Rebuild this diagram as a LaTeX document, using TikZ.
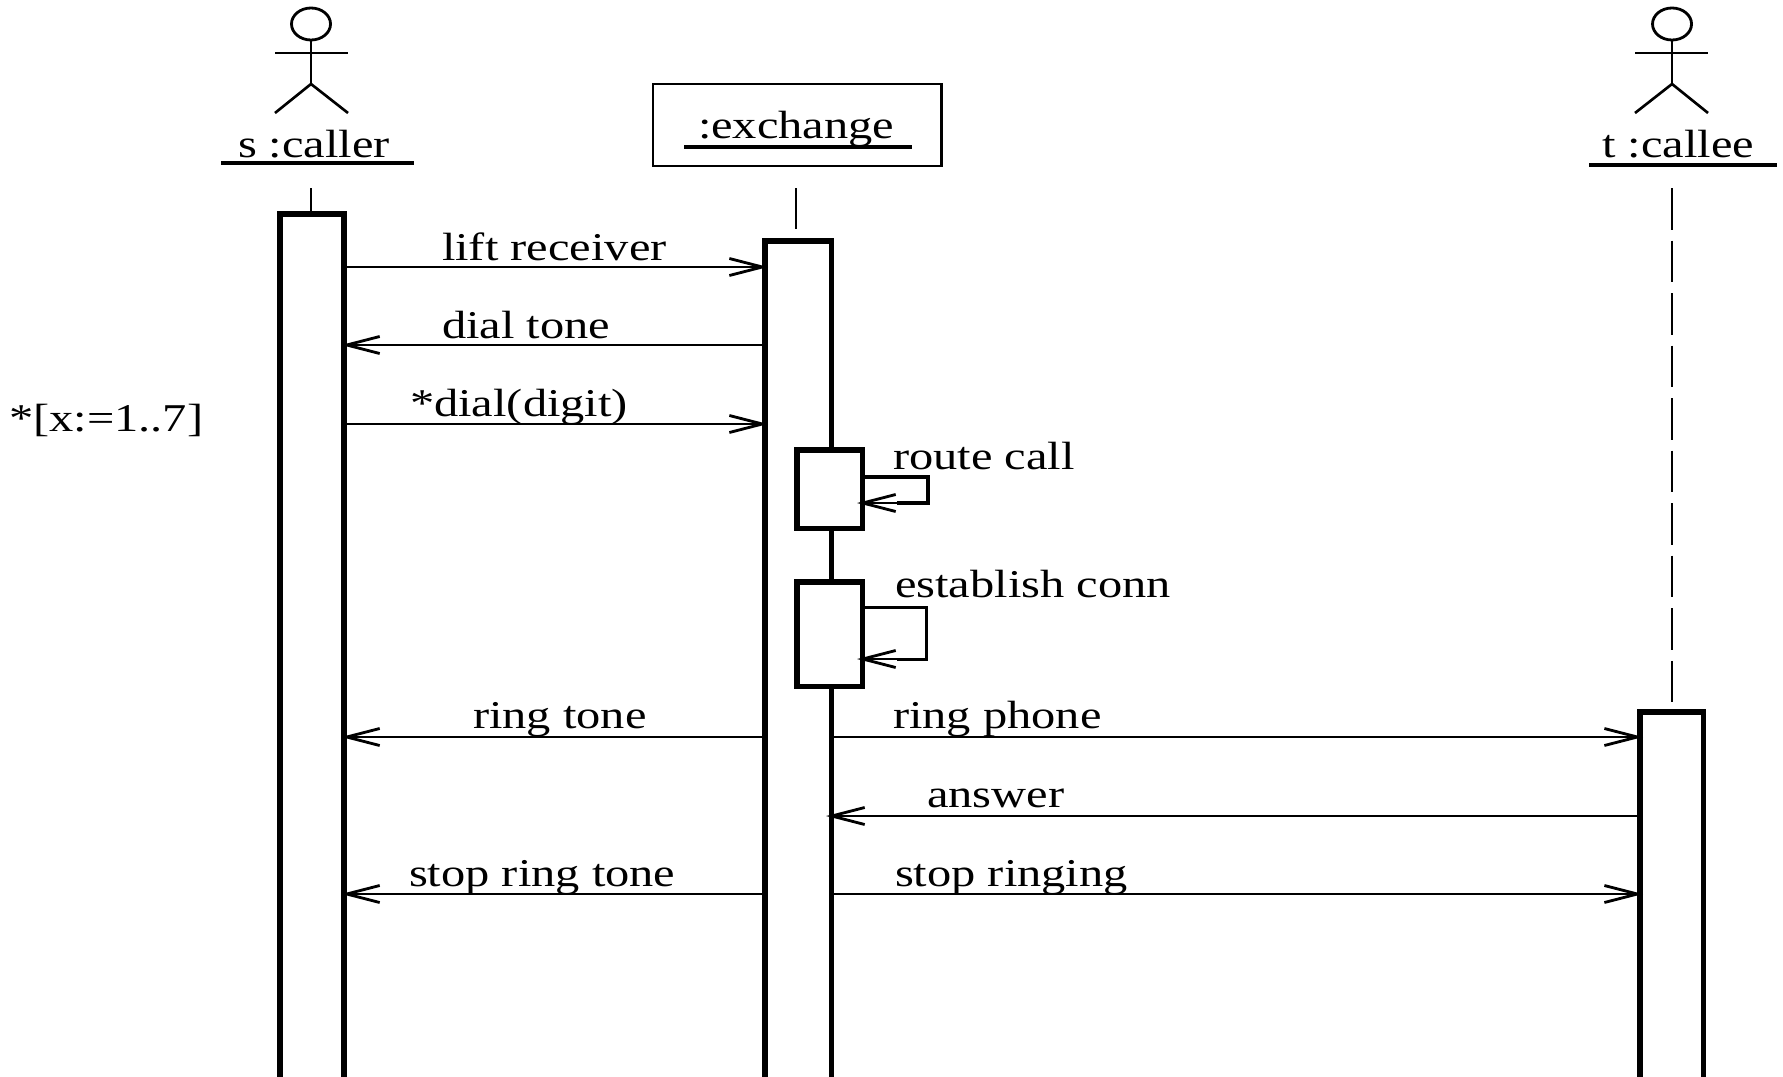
\documentclass[tikz,border=0pt]{standalone}
\usepackage{fontspec}
\setmainfont[FakeStretch=1.23]{Liberation Serif}
\usetikzlibrary{arrows.meta, shapes.geometric, positioning}
\tikzset{
  lifebar/.style={
    rectangle, draw, line width=1.45pt, fill=white,
    inner sep=0pt, outer sep=0pt, anchor=north west,
    minimum width=#1
  },
  objbox/.style={
    rectangle, draw, line width=0.8pt,
    inner sep=0pt, outer sep=0pt,
    minimum width=2.88cm, minimum height=0.82cm
  },
  headnode/.style={
    ellipse, draw, line width=0.8pt,
    inner sep=0pt, outer sep=0pt,
    minimum width=0.39cm, minimum height=0.32cm
  },
  msglabel/.style={
    anchor=base west, inner sep=0pt, outer sep=0pt,
    font=\fontsize{11.2}{12}\selectfont
  },
  msgarrow/.style={
    -{Straight Barb[length=0.33cm,width=0.17cm,line width=0.8pt]},
    line width=0.75pt, shorten >=-0.03cm
  },
  selfarrow/.style={msgarrow, shorten >=-0.05cm},
  lifeline/.style={line width=0.75pt},
  nameline/.style={line width=1.3pt},
  selfline/.style={line width=#1},
}
\begin{document}
\begin{tikzpicture}[x=0.01cm,y=-0.01cm]
  \useasboundingbox (0,0) rectangle (1783,1076);
  \clip (0,0) rectangle (1783,1076);
  % actors and the object box
  \node[headnode](shead) at (311,24){};
  \coordinate (sarml) at (275,53);
  \coordinate (sarmr) at (348,53);
  \coordinate (ships) at (311,84);
  \coordinate (slegl) at (275,113);
  \coordinate (slegr) at (348,113);
  \draw[lifeline](shead.south)--(ships);
  \draw[lifeline](sarml)--(sarmr);
  \draw[lifeline](slegl)--(ships)--(slegr);
  \node[headnode](thead) at (1672,24){};
  \coordinate (tarml) at (1635,53);
  \coordinate (tarmr) at (1708,53);
  \coordinate (thips) at (1672,84);
  \coordinate (tlegl) at (1635,113);
  \coordinate (tlegr) at (1708,113);
  \draw[lifeline](thead.south)--(thips);
  \draw[lifeline](tarml)--(tarmr);
  \draw[lifeline](tlegl)--(thips)--(tlegr);
  \node[msglabel](sname) at (238,158){s :caller};
  \coordinate (snamel) at (221,163);
  \coordinate (snamer) at (414,163);
  \draw[nameline](snamel)--(snamer);
  \node[msglabel](tname) at (1602,158){t :callee};
  \coordinate (tnamel) at (1589,165);
  \coordinate (tnamer) at (1777,165);
  \draw[nameline](tnamel)--(tnamer);
  \node[objbox](xbox) at (797,125){};
  \node[msglabel](xname) at (698,139){:exchange};
  \coordinate (xnamel) at (684,147);
  \coordinate (xnamer) at (912,147);
  \draw[nameline](xnamel)--(xnamer);
  % activation bars
  \node[lifebar=0.64cm,minimum height=9cm](sbar) at (280,214){};
  \node[lifebar=0.66cm,minimum height=9cm](xbar) at (765,241){};
  \node[lifebar=0.65cm,minimum height=0.78cm](route) at (797,450){};
  \node[lifebar=0.65cm,minimum height=1.04cm](conn) at (797,582){};
  \node[lifebar=0.63cm,minimum height=5cm](tbar) at (1640,712){};
  % lifelines
  \coordinate (stop) at (311,188);
  \coordinate (xtop) at (796,188);
  \coordinate (xend) at (796,229);
  \coordinate (ttop) at (1672,188);
  \coordinate (tend) at (1672,702);
  \draw[lifeline](stop)--(sbar.north -| stop);
  \draw[lifeline](xtop)--(xend);
  \draw[lifeline,dash pattern=on 0.415cm off 0.11cm](ttop)--(tend);
  % messages
  \coordinate (m1) at (0,267);
  \coordinate (m2) at (0,345);
  \coordinate (m3) at (0,424);
  \coordinate (m4) at (0,737);
  \coordinate (m5) at (0,816);
  \coordinate (m6) at (0,894);
  \draw[msgarrow](sbar.east |- m1)--(xbar.west |- m1);
  \draw[msgarrow](xbar.west |- m2)--(sbar.east |- m2);
  \draw[msgarrow](sbar.east |- m3)--(xbar.west |- m3);
  \draw[msgarrow](xbar.west |- m4)--(sbar.east |- m4);
  \draw[msgarrow](xbar.east |- m4)--(tbar.west |- m4);
  \draw[selfarrow](tbar.west |- m5)--(xbar.east |- m5);
  \draw[msgarrow](xbar.west |- m6)--(sbar.east |- m6);
  \draw[msgarrow](xbar.east |- m6)--(tbar.west |- m6);
  % self calls
  \coordinate (r1) at (928,477);
  \coordinate (r2) at (928,503);
  \coordinate (r3) at (897,503);
  \coordinate (c1) at (926,607);
  \coordinate (c2) at (926,659);
  \coordinate (c3) at (897,659);
  \draw[selfline=1.3pt](route.east |- r1)--(r1)--(r2)--(r3);
  \draw[selfarrow](r3)--(route.east |- r3);
  \draw[selfline=0.85pt](conn.east |- c1)--(c1)--(c2)--(c3);
  \draw[selfarrow](c3)--(conn.east |- c3);
  % labels
  \node[msglabel](lift) at (442,260){lift receiver};
  \node[msglabel](dial) at (442,338){dial tone};
  \node[msglabel](digit) at (410,416){*dial(digit)};
  \node[msglabel](iter) at (9,431){*[x:=1..7]};
  \node[msglabel](routelab) at (893,469){route call};
  \node[msglabel](connlab) at (895,597){establish conn};
  \node[msglabel](ringt) at (473,728){ring tone};
  \node[msglabel](ringp) at (893,728){ring phone};
  \node[msglabel](answer) at (927,807){answer};
  \node[msglabel](stopt) at (409,886){stop ring tone};
  \node[msglabel](stopr) at (895,886){stop ringing};
\end{tikzpicture}
\end{document}
